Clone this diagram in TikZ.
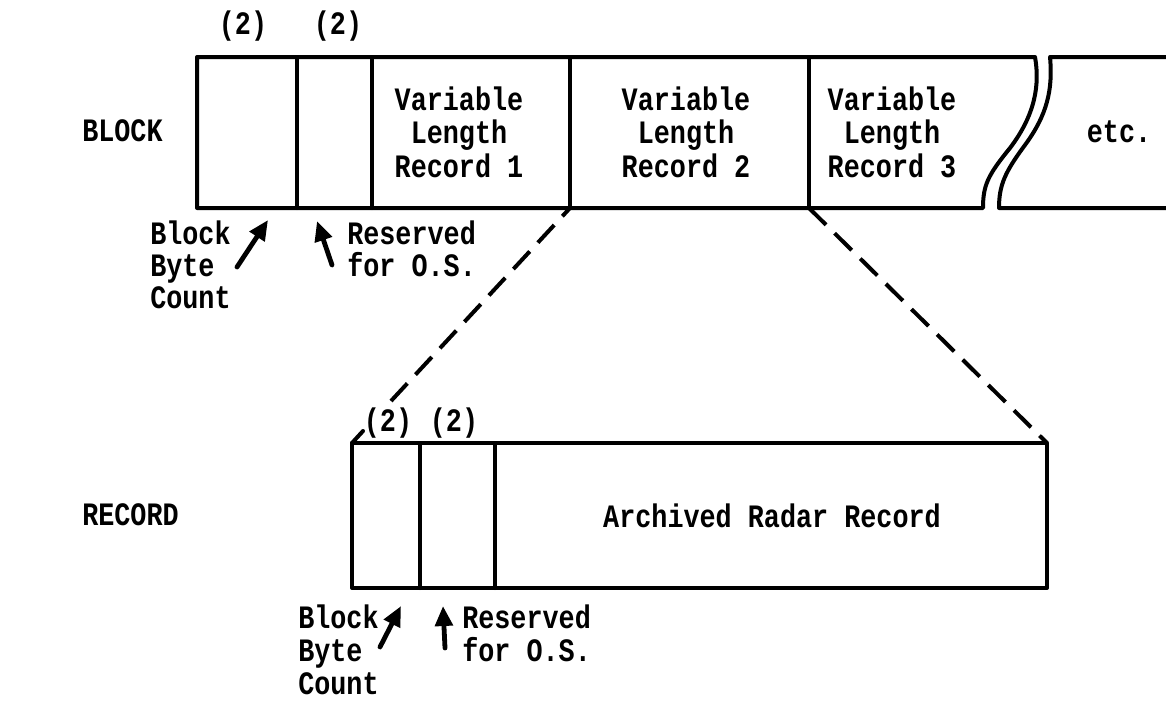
\documentclass[tikz,border=0pt]{standalone}
\usepackage{fontspec}
\setmonofont[FakeStretch=0.82]{Liberation Mono}
\usetikzlibrary{arrows.meta}
\tikzset{
  lbl/.style={font=\ttfamily\bfseries\fontsize{24.5pt}{26pt}\selectfont, inner sep=0pt},
  lc/.style={lbl, anchor=base},
  ll/.style={lbl, anchor=base west},
  bx/.style={line width=3pt, line join=round, line cap=round},
  dsh/.style={line width=3pt, dash pattern=on 18pt off 9pt},
  arr/.style={line width=3.6pt, line cap=round, -{Triangle[length=15pt,width=13pt]}}
}
\begin{document}
\begin{tikzpicture}[x=0.75pt,y=-0.75pt]
\useasboundingbox (0,0) rectangle (1166,701);
% ---------- BLOCK ----------
\coordinate (bTL) at (197,57);
\coordinate (bBL) at (197,208);
\coordinate (d1t) at (297,57);  \coordinate (d1b) at (297,208);
\coordinate (d2t) at (372,57);  \coordinate (d2b) at (372,208);
\coordinate (d3t) at (570,57);  \coordinate (d3b) at (570,208);
\coordinate (d4t) at (809,57);  \coordinate (d4b) at (809,208);
\coordinate (wLt) at (1035,57); \coordinate (wLb) at (983,208);
\coordinate (wRt) at (1050,57); \coordinate (wRb) at (999,208);
\coordinate (eT) at (1166,57);  \coordinate (eB) at (1166,208);

\draw[bx] (wLt) -- (bTL) -- (bBL) -- (wLb)
  .. controls (983,185) and (988,175) .. (1010,148)
  .. controls (1035,115) and (1040,85) .. (wLt);
\draw[bx] (eT) -- (wRt)
  .. controls (1053,90) and (1047,115) .. (1025,145)
  .. controls (1005,172) and (999,185) .. (wRb) -- (eB);
\draw[bx] (d1t) -- (d1b);
\draw[bx] (d2t) -- (d2b);
\draw[bx] (d3t) -- (d3b);
\draw[bx] (d4t) -- (d4b);

\node[lc] (p1) at (243,34) {(2)};
\node[lc] (p2) at (338,34) {(2)};

\node[lc] (r1a) at (459,110) {Variable};
\node[lc] (r1b) at (459,143) {Length};
\node[lc] (r1c) at (459,177) {Record 1};
\node[lc] (r2a) at (686,110) {Variable};
\node[lc] (r2b) at (686,143) {Length};
\node[lc] (r2c) at (686,177) {Record 2};
\node[lc] (r3a) at (892,110) {Variable};
\node[lc] (r3b) at (892,143) {Length};
\node[lc] (r3c) at (892,177) {Record 3};
\node[lc] (etc) at (1119,142) {etc.};

\node[ll] (blk) at (82,141) {BLOCK};

\node[ll] (bb1) at (150,244) {Block};
\node[ll] (bb2) at (150,276) {Byte};
\node[ll] (bb3) at (150,308) {Count};
\node[ll] (br1) at (347,244) {Reserved};
\node[ll] (br2) at (347,276) {for O.S.};

\coordinate (a1s) at (237,267); \coordinate (a1e) at (268,220);
\coordinate (a2s) at (332,265); \coordinate (a2e) at (317,221);
\draw[arr] (a1s) -- (a1e);
\draw[arr] (a2s) -- (a2e);

% ---------- RECORD ----------
\coordinate (rTL) at (352,443);
\coordinate (rBL) at (352,588);
\coordinate (rTR) at (1047,443);
\coordinate (rBR) at (1047,588);
\coordinate (e1t) at (420,443); \coordinate (e1b) at (420,588);
\coordinate (e2t) at (495,443); \coordinate (e2b) at (495,588);

\draw[bx] (rTL) -- (rTR) -- (rBR) -- (rBL) -- cycle;
\draw[bx] (e1t) -- (e1b);
\draw[bx] (e2t) -- (e2b);

\node[lc] (q1) at (388,431) {(2)};
\node[lc] (q2) at (454,431) {(2)};
\node[lc] (ard) at (772,527) {Archived Radar Record};
\node[ll] (rec) at (82,525) {RECORD};

\node[ll] (rb1) at (298,628) {Block};
\node[ll] (rb2) at (298,661) {Byte};
\node[ll] (rb3) at (298,694) {Count};
\node[ll] (rr1) at (462,628) {Reserved};
\node[ll] (rr2) at (462,661) {for O.S.};

\coordinate (a3s) at (380,647); \coordinate (a3e) at (401,606);
\coordinate (a4s) at (445,648); \coordinate (a4e) at (443,606);
\draw[arr] (a3s) -- (a3e);
\draw[arr] (a4s) -- (a4e);

% ---------- dashed expansion lines ----------
\coordinate (gA) at (391,401);
\coordinate (gB) at (363,431);
\draw[dsh] (gA) -- (d3b);
\draw[bx] (rTL) -- (gB);
\draw[dsh] (d4b) -- (rTR);
\end{tikzpicture}
\end{document}
